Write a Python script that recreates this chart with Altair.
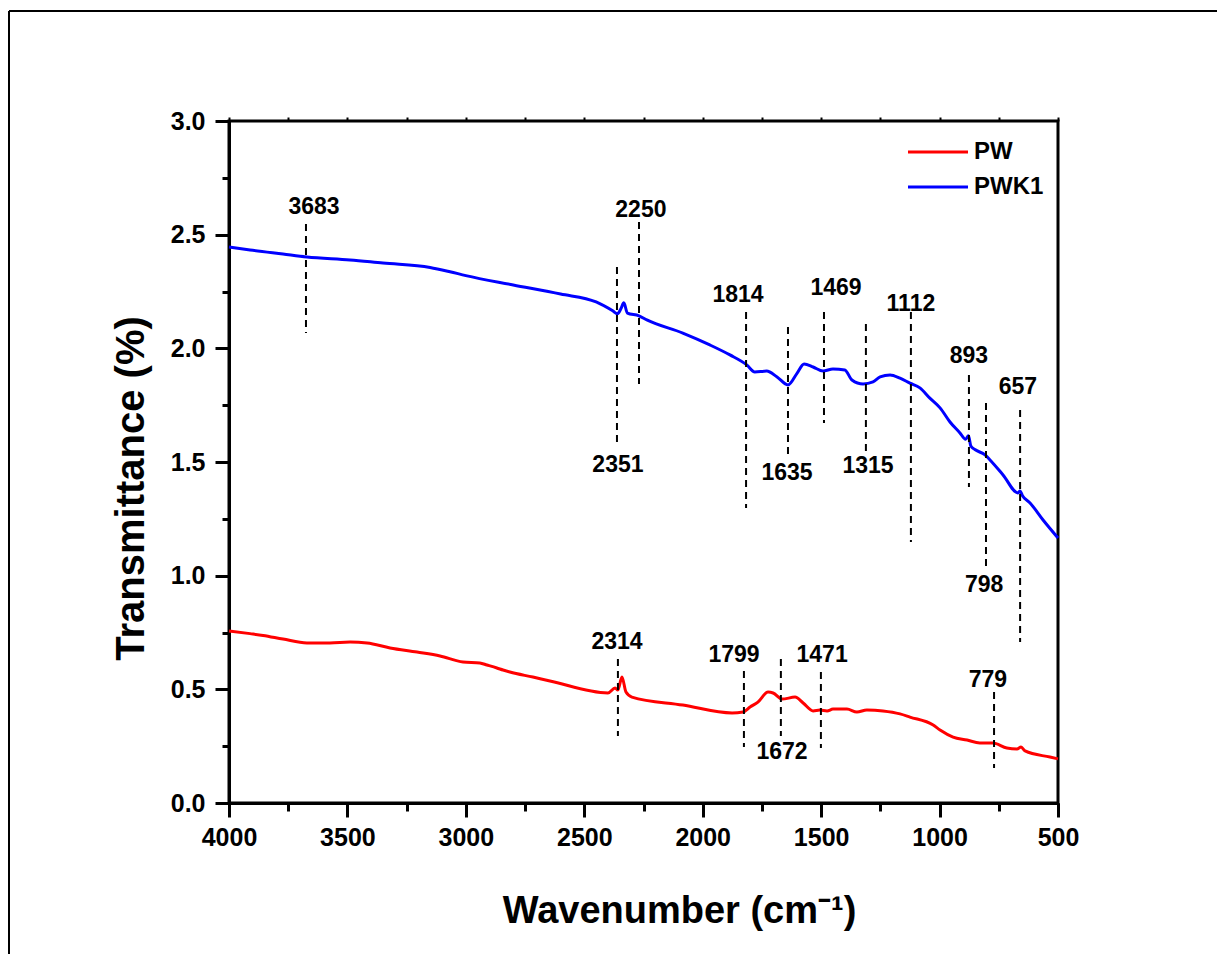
import altair as alt
import pandas as pd

FONT = "Liberation Sans"

# ---- spectra ----
pw_wn = [4000, 3911, 3856, 3772, 3671, 3574, 3489, 3417, 3320, 3206, 3109, 3012, 2941, 2911,
         2869, 2843, 2814, 2717, 2645, 2400, 2370, 2358, 2341, 2324, 2299, 2084, 1876, 1830,
         1800, 1767, 1724, 1703, 1665, 1610, 1576, 1534, 1505, 1475, 1450, 1391, 1349, 1307,
         1239, 1167, 1125, 1027, 998, 943, 884, 830, 775, 716, 673, 656, 639, 534, 500]
pw_t = [0.757, 0.745, 0.737, 0.721, 0.704, 0.704, 0.708, 0.704, 0.682, 0.664, 0.647, 0.620, 0.616, 0.607,
        0.594, 0.585, 0.576, 0.554, 0.537, 0.484, 0.506, 0.497, 0.554, 0.488, 0.466, 0.431, 0.396, 0.400,
        0.422, 0.444, 0.488, 0.484, 0.457, 0.466, 0.440, 0.405, 0.409, 0.405, 0.413, 0.413, 0.400, 0.409,
        0.405, 0.392, 0.378, 0.343, 0.321, 0.290, 0.277, 0.264, 0.264, 0.242, 0.238, 0.246, 0.229, 0.202, 0.194]

pwk1_wn = [4000, 3911, 3772, 3671, 3489, 3350, 3151, 3067, 3000, 2800, 2600, 2450, 2380, 2360,
           2345, 2333, 2318, 2269, 2236, 2084, 1970, 1885, 1814, 1780, 1730, 1686, 1640, 1602,
           1572, 1534, 1492, 1450, 1400, 1370, 1323, 1281, 1251, 1209, 1167, 1125, 1083, 1041,
           998, 956, 914, 890, 878, 868, 851, 808, 787, 732, 669, 660, 650, 618, 563, 500]
pwk1_t = [2.446, 2.433, 2.415, 2.402, 2.389, 2.375, 2.356, 2.337, 2.320, 2.279, 2.239, 2.204, 2.165, 2.152,
          2.175, 2.200, 2.155, 2.143, 2.125, 2.067, 2.015, 1.971, 1.927, 1.896, 1.900, 1.874, 1.839, 1.890,
          1.931, 1.918, 1.900, 1.909, 1.905, 1.861, 1.843, 1.852, 1.874, 1.883, 1.869, 1.847, 1.826, 1.781,
          1.738, 1.676, 1.628, 1.600, 1.615, 1.570, 1.555, 1.531, 1.509, 1.443, 1.364, 1.372, 1.352, 1.320,
          1.245, 1.166]

# ---- peak annotations ----
ann_label = ["3683", "2351", "2250", "1814", "1635", "1469", "1315", "1112", "893", "798", "657",
             "2314", "1799", "1672", "1471", "779"]
ann_line_x = [3675, 2362, 2269, 1817, 1640, 1488, 1311, 1121, 876, 804, 660,
              2358, 1826, 1670, 1501, 770]
ann_y_top = [2.547, 2.358, 2.556, 2.160, 2.094, 2.160, 2.107, 2.160, 1.883, 1.760, 1.729,
             0.633, 0.581, 0.633, 0.576, 0.488]
ann_y_bot = [2.067, 1.566, 1.843, 1.298, 1.531, 1.672, 1.544, 1.148, 1.390, 1.038, 0.708,
             0.295, 0.246, 0.295, 0.242, 0.154]
ann_text_x = [3641, 2358, 2261, 1851, 1644, 1437, 1302, 1121, 876, 812, 669,
              2362, 1868, 1665, 1496, 796]
ann_text_y = [2.622, 1.487, 2.608, 2.235, 1.452, 2.265, 1.482, 2.195, 1.966, 0.959, 1.830,
              0.708, 0.651, 0.224, 0.651, 0.541]

series = ["PW", "PWK1"]
colors = ["#ff0000", "#0000ff"]

x_major_ticks = list(range(500, 4001, 500))
x_minor_ticks = list(range(500, 4001, 250))
y_major_ticks = [0.0, 0.5, 1.0, 1.5, 2.0, 2.5, 3.0]
y_minor_ticks = [i * 0.25 for i in range(13)]

lines_df = pd.concat([
    pd.DataFrame({"wn": pw_wn, "t": pw_t, "sample": series[0]}),
    pd.DataFrame({"wn": pwk1_wn, "t": pwk1_t, "sample": series[1]}),
])
ann_df = pd.DataFrame({"label": ann_label, "lx": ann_line_x, "ytop": ann_y_top,
                       "ybot": ann_y_bot, "tx": ann_text_x, "ty": ann_text_y})

xscale = alt.Scale(domain=[500, 4000], reverse=True, nice=False, zero=False)
yscale = alt.Scale(domain=[0, 3], nice=False, zero=False)

common = dict(tickColor="black", tickWidth=3, domainColor="black", domainWidth=3,
              grid=False, labelFont=FONT, labelFontSize=25, labelFontWeight="bold",
              labelColor="black", labelFlush=False, labelOverlap=False)

x_major = alt.Axis(orient="bottom", values=x_major_ticks, format="d", tickSize=14,
                   labelPadding=8, title="Wavenumber (cm\u207b\u00b9)", titleFont=FONT,
                   titleFontSize=38, titleFontWeight="bold", titleColor="black",
                   titleX=450, titleY=119, titleBaseline="alphabetic", titleAlign="center",
                   **common)
x_minor = alt.Axis(orient="bottom", values=x_minor_ticks, tickSize=8, labels=False,
                   domain=False, title=None, tickColor="black", tickWidth=3, grid=False)
x_top = alt.Axis(orient="top", values=x_minor_ticks, tickSize=4, labels=False,
                 domain=False, title=None, tickColor="black", tickWidth=2, grid=False)

y_major = alt.Axis(orient="left", values=y_major_ticks, format=".1f", tickSize=14,
                   labelPadding=10, title="Transmittance (%)", titleFont=FONT,
                   titleFontSize=40, titleFontWeight="bold", titleColor="black",
                   titleAngle=270, titleX=-86, titleY=367, titleBaseline="alphabetic",
                   titleAlign="center", **common)
y_minor = alt.Axis(orient="left", values=y_minor_ticks, tickSize=7, labels=False,
                   domain=False, title=None, tickColor="black", tickWidth=3, grid=False)

lines = alt.Chart(lines_df).mark_line(strokeWidth=3, interpolate="monotone").encode(
    x=alt.X("wn:Q", scale=xscale, axis=x_major),
    y=alt.Y("t:Q", scale=yscale, axis=y_major),
    color=alt.Color("sample:N", scale=alt.Scale(domain=series, range=colors),
                    legend=alt.Legend(orient="none", legendX=697, legendY=19, title=None,
                                      symbolType="M-3,0H3", symbolSize=400,
                                      symbolStrokeWidth=3, labelFont=FONT,
                                      labelFontSize=24, labelFontWeight="bold",
                                      labelColor="black", labelOffset=24, padding=0,
                                      rowPadding=11)),
)

dashes = alt.Chart(ann_df).mark_rule(color="black", strokeWidth=2, strokeDash=[7, 5]).encode(
    x=alt.X("lx:Q", scale=xscale, axis=x_minor),
    y=alt.Y("ytop:Q", scale=yscale, axis=y_minor),
    y2="ybot:Q",
)

labels = alt.Chart(ann_df).mark_text(font=FONT, fontSize=23, fontWeight="bold", color="black",
                                     align="center", baseline="middle").encode(
    x=alt.X("tx:Q", scale=xscale, axis=x_top),
    y=alt.Y("ty:Q", scale=yscale, axis=None),
    text="label:N",
)

frame_left = alt.Chart(ann_df).mark_rule(color="black", strokeWidth=2).encode(
    x=alt.value(-220), y=alt.value(-110), y2=alt.value(833))
frame_top = alt.Chart(ann_df).mark_rule(color="black", strokeWidth=2).encode(
    x=alt.value(-220), x2=alt.value(988), y=alt.value(-110))

chart = alt.layer(lines, dashes, labels, frame_left, frame_top).resolve_axis(
    x="independent", y="independent"
).properties(
    width=829, height=682,
    padding={"left": 8, "top": 10, "right": 0, "bottom": 0},
    background="white",
).configure_view(stroke="black", strokeWidth=3)

chart.save("out.html", embed_options={"renderer": "svg", "actions": False})
